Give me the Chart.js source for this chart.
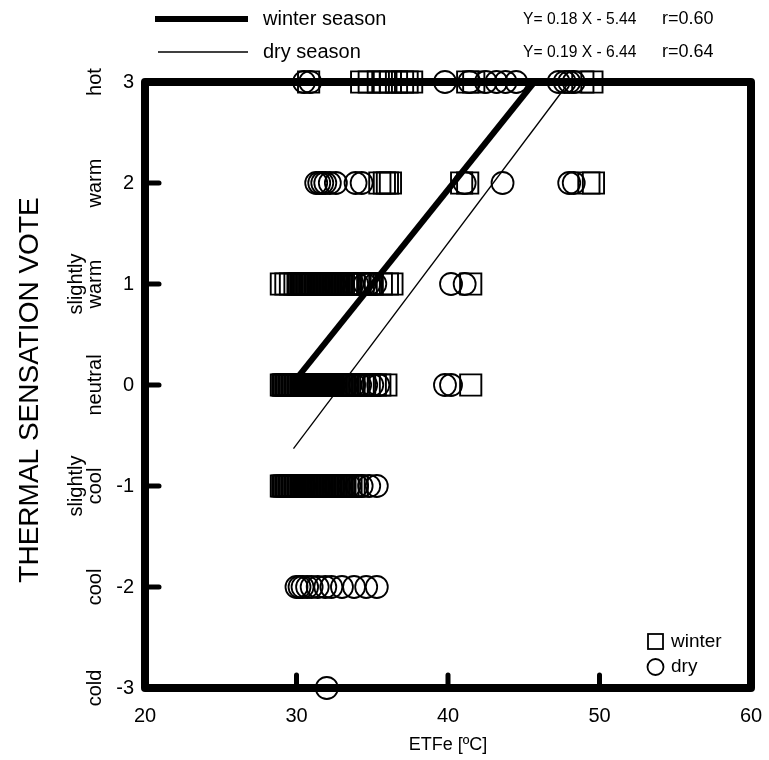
<!DOCTYPE html>
<html>
<head>
<meta charset="utf-8">
<script src="https://cdn.jsdelivr.net/npm/chart.js@4/dist/chart.umd.min.js"></script>
<style>
  html, body { margin: 0; padding: 0; background: #fff; }
  #wrap { width: 769px; height: 760px; }
</style>
</head>
<body>
<div id="wrap"><canvas id="tsv"></canvas></div>
<script>
// ETFe vs thermal sensation vote

// winter season (squares): ETFe values per vote
const winterHot = [30.8, 34.3, 34.8, 35.4, 35.8, 36.2, 36.6, 37.0, 37.3, 37.6, 41.3, 41.7, 48.9, 49.5];
const winterWarm = [35.5, 35.8, 36.0, 36.2, 40.9, 41.3, 49.3, 49.6];
const winterSlWarm = [29.0, 29.3, 29.6, 29.9, 30.1, 30.2, 30.3, 30.4, 30.5, 30.6, 30.7, 30.8, 30.9, 31.0,
  31.1, 31.2, 31.3, 31.4, 31.5, 31.6, 31.7, 31.8, 31.9, 32.0, 32.1, 32.2, 32.3, 32.4, 32.5, 32.6, 32.7,
  32.8, 32.9, 33.0, 33.1, 33.3, 33.5, 33.8, 34.1, 34.4, 34.8, 35.0, 35.6, 36.0, 36.3, 41.5];
const winterNeutral = [29.0, 29.1, 29.15, 29.2, 29.3, 29.35, 29.4, 29.5, 29.55, 29.6, 29.7, 29.75, 29.8,
  29.9, 29.95, 30.0, 30.1, 30.15, 30.2, 30.3, 30.35, 30.4, 30.5, 30.55, 30.6, 30.7, 30.75, 30.8, 30.9,
  30.95, 31.0, 31.1, 31.15, 31.2, 31.3, 31.35, 31.4, 31.5, 31.55, 31.6, 31.7, 31.75, 31.8, 31.9, 31.95,
  32.0, 32.1, 32.15, 32.2, 32.3, 32.35, 32.4, 32.5, 32.6, 32.7, 32.8, 32.9, 33.0, 33.1, 33.2, 33.3,
  33.5, 33.7, 34.0, 34.4, 34.8, 35.2, 35.5, 35.9, 41.5];
const winterSlCool = [29.0, 29.1, 29.2, 29.3, 29.4, 29.5, 29.6, 29.7, 29.8, 29.9, 30.0, 30.1, 30.2, 30.3,
  30.4, 30.5, 30.6, 30.7, 30.8, 30.9, 31.0, 31.1, 31.2, 31.3, 31.4, 31.5, 31.6, 31.7, 31.8, 31.9, 32.0,
  32.1, 32.2, 32.3, 32.4, 32.5, 32.6, 32.7, 32.8, 32.9, 33.0, 33.1, 33.2, 33.4, 33.6, 33.8, 34.0];

// dry season (circles)
const dryHot = [30.5, 30.9, 39.8, 41.4, 42.5, 43.2, 43.8, 44.5, 47.3, 47.7, 48.0, 48.3];
const dryWarm = [31.3, 31.5, 31.7, 31.9, 32.2, 32.6, 33.9, 34.3, 41.1, 43.6, 48.0, 48.3];
const drySlWarm = [31.5, 32.5, 33.7, 34.0, 34.5, 34.8, 35.2, 40.2, 41.1];
const dryNeutral = [30.5, 31.5, 32.5, 33.3, 33.8, 34.2, 34.6, 35.0, 35.4, 39.8, 40.2];
const drySlCool = [30.5, 31.5, 32.5, 33.5, 34.0, 34.3, 34.8, 35.3];
const dryCool = [30.0, 30.2, 30.4, 30.7, 31.0, 31.4, 31.9, 32.3, 33.0, 33.8, 34.6, 35.3];
const dryCold = [32.0];

// regression lines as drawn (end points)
const winterLineX = [30.1, 45.7];
const winterLineY = [0.08, 3.0];
const dryLineX = [29.8, 48.0];
const dryLineY = [-0.63, 3.0];

const voteTicks = [-3, -2, -1, 0, 1, 2, 3];
const voteNames = {
  3: ["hot"], 2: ["warm"], 1: ["slightly", "warm"], 0: ["neutral"],
  "-1": ["slightly", "cool"], "-2": ["cool"], "-3": ["cold"]
};
const etfTicks = [20, 30, 40, 50, 60];

function rows(groups) {
  const out = [];
  groups.forEach(([vals, v]) => vals.forEach((x) => out.push({ x: x, y: v })));
  return out;
}

const winterPts = rows([[winterHot, 3], [winterWarm, 2], [winterSlWarm, 1], [winterNeutral, 0], [winterSlCool, -1]]);
const dryPts = rows([[dryHot, 3], [dryWarm, 2], [drySlWarm, 1], [dryNeutral, 0], [drySlCool, -1], [dryCool, -2], [dryCold, -3]]);

const FONT = "'Liberation Sans', Arial, sans-serif";

// frame, inner ticks, vote names, titles, legends
const decor = {
  id: "decor",
  beforeDatasetsDraw(chart) {
    const { ctx, chartArea: a, scales } = chart;
    ctx.save();
    ctx.strokeStyle = "#000";
    ctx.lineWidth = 8;
    ctx.lineJoin = "round";
    ctx.strokeRect(a.left, a.top, a.right - a.left, a.bottom - a.top);
    ctx.lineWidth = 5;
    ctx.lineCap = "round";
    [-2, -1, 0, 1, 2].forEach((v) => {
      const y = scales.y.getPixelForValue(v);
      ctx.beginPath(); ctx.moveTo(a.left, y); ctx.lineTo(a.left + 14, y); ctx.stroke();
    });
    [30, 40, 50].forEach((v) => {
      const x = scales.x.getPixelForValue(v);
      ctx.beginPath(); ctx.moveTo(x, a.bottom); ctx.lineTo(x, a.bottom - 13); ctx.stroke();
    });
    ctx.restore();
  },
  afterDraw(chart) {
    const { ctx, chartArea: a, scales } = chart;
    ctx.save();
    ctx.fillStyle = "#000";
    ctx.strokeStyle = "#000";

    // vote names, rotated
    ctx.font = "20px " + FONT;
    ctx.textAlign = "center";
    ctx.textBaseline = "middle";
    voteTicks.forEach((v) => {
      const y = scales.y.getPixelForValue(v);
      const lines = voteNames[v];
      lines.forEach((t, i) => {
        const x = 95 - (lines.length - 1 - i) * 19;
        ctx.save();
        ctx.translate(x, y);
        ctx.rotate(-Math.PI / 2);
        ctx.fillText(t, 0, 0);
        ctx.restore();
      });
    });

    // y axis title
    ctx.font = "28px " + FONT;
    ctx.save();
    ctx.translate(30, 390);
    ctx.rotate(-Math.PI / 2);
    ctx.fillText("THERMAL SENSATION VOTE", 0, 0);
    ctx.restore();

    // x axis title
    ctx.font = "18px " + FONT;
    ctx.fillText("ETFe [ºC]", (a.left + a.right) / 2, 745);

    // top legend
    ctx.lineCap = "butt";
    ctx.lineWidth = 6;
    ctx.beginPath(); ctx.moveTo(155, 19); ctx.lineTo(248, 19); ctx.stroke();
    ctx.lineWidth = 1.3;
    ctx.beginPath(); ctx.moveTo(158, 52); ctx.lineTo(248, 52); ctx.stroke();
    ctx.textAlign = "left";
    ctx.font = "20px " + FONT;
    ctx.fillText("winter season", 263, 19);
    ctx.fillText("dry season", 263, 52);
    ctx.font = "17px " + FONT;
    ctx.save();
    ctx.translate(523, 0);
    ctx.scale(0.92, 1);
    ctx.fillText("Y= 0.18 X - 5.44", 0, 19);
    ctx.fillText("Y= 0.19 X - 6.44", 0, 52);
    ctx.restore();
    ctx.font = "18px " + FONT;
    ctx.fillText("r=0.60", 662, 19);
    ctx.fillText("r=0.64", 662, 52);

    // marker legend
    ctx.lineWidth = 1.8;
    ctx.strokeRect(648, 634, 15, 15);
    ctx.beginPath(); ctx.arc(655.5, 667, 8, 0, Math.PI * 2); ctx.stroke();
    ctx.font = "19px " + FONT;
    ctx.fillText("winter", 671, 642);
    ctx.fillText("dry", 671, 667);
    ctx.restore();
  }
};

new Chart(document.getElementById("tsv"), {
  type: "scatter",
  data: {
    datasets: [
      {
        label: "winter regression",
        data: winterLineX.map((x, i) => ({ x: x, y: winterLineY[i] })),
        showLine: true,
        borderColor: "#000",
        borderWidth: 6,
        pointRadius: 0,
        clip: false,
      },
      {
        label: "dry regression",
        data: dryLineX.map((x, i) => ({ x: x, y: dryLineY[i] })),
        showLine: true,
        borderColor: "#000",
        borderWidth: 1.3,
        pointRadius: 0,
        clip: false,
      },
      {
        label: "winter",
        data: winterPts,
        pointStyle: "rect",
        pointRadius: 15,
        borderColor: "#000",
        borderWidth: 1.9,
        backgroundColor: "rgba(0,0,0,0)",
        clip: false,
      },
      {
        label: "dry",
        data: dryPts,
        pointStyle: "circle",
        pointRadius: 11,
        borderColor: "#000",
        borderWidth: 1.8,
        backgroundColor: "rgba(0,0,0,0)",
        clip: false,
      },
    ],
  },
  options: {
    responsive: true,
    maintainAspectRatio: false,
    animation: false,
    layout: { padding: { top: 82, right: 18, left: 0, bottom: 0 } },
    plugins: { legend: { display: false }, tooltip: { enabled: false } },
    scales: {
      x: {
        type: "linear",
        min: 20,
        max: 60,
        afterBuildTicks: (s) => { s.ticks = etfTicks.map((v) => ({ value: v })); },
        afterFit: (s) => { s.height = 72; s.paddingLeft = 0; s.paddingRight = 0; },
        grid: { display: false, drawTicks: false },
        border: { display: false },
        ticks: { color: "#000", padding: 16, font: { size: 20, family: FONT } },
      },
      y: {
        type: "linear",
        min: -3,
        max: 3,
        afterBuildTicks: (s) => { s.ticks = voteTicks.map((v) => ({ value: v })); },
        afterFit: (s) => { s.width = 145; },
        grid: { display: false, drawTicks: false },
        border: { display: false },
        ticks: { color: "#000", padding: 11, font: { size: 20, family: FONT } },
      },
    },
  },
  plugins: [decor],
});
</script>
</body>
</html>
